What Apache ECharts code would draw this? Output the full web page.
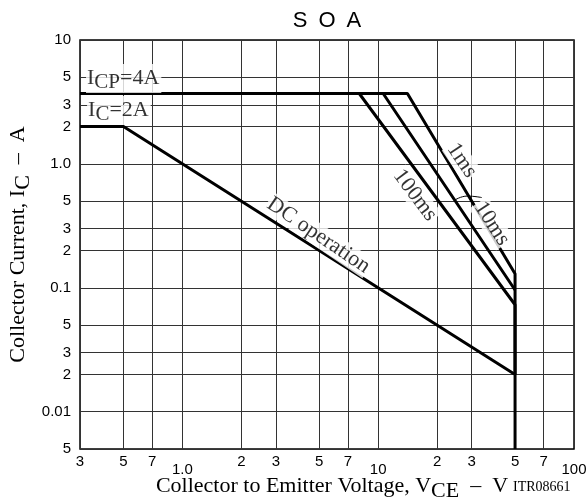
<!DOCTYPE html>
<html><head><meta charset="utf-8">
<script src="https://cdn.jsdelivr.net/npm/echarts@6/dist/echarts.min.js"></script>
<style>html,body{margin:0;padding:0;background:#fff}#c{width:587px;height:500px}</style>
</head><body><div id="c"></div>
<script>
// ---- tick positions & labels ----
const xTickValues = [0.3,0.5,0.7,1,2,3,5,7,10,20,30,50,70,100];
const xTickLabels = ['3','5','7','1.0','2','3','5','7','10','2','3','5','7','100'];
const yTickValues = [0.005,0.01,0.02,0.03,0.05,0.1,0.2,0.3,0.5,1,2,3,5,10];
const yTickLabels = ['5','0.01','2','3','5','0.1','2','3','5','1.0','2','3','5','10'];
const xDecadeLabels = ['1.0','10','100'];

// ---- curves (V, A) ----
const dcVoltage = [0.3, 0.5, 50, 50];
const dcCurrent = [2, 2, 0.02, 0.005];
const ms100Voltage = [0.3, 8.0, 50, 50];
const ms100Current = [3.7, 3.7, 0.073, 0.02];
const ms10Voltage = [0.3, 10.6, 50];
const ms10Current = [3.7, 3.7, 0.096];
const ms1Voltage = [0.3, 14.1, 50, 50];
const ms1Current = [3.7, 3.7, 0.13, 0.02];

// ---- annotation text (anchored in data coordinates) ----
const annotTexts = ['{i|I}{s|CP}{i|=4A}', '{i|I}{s|C}{i|=2A}', 'DC operation', '100ms', '1ms', '10ms'];
const annotVoltage = [0.322, 0.326, 4.95, 15.4, 26.7, 38.0];
const annotCurrent = [4.88, 2.70, 0.265, 0.558, 1.067, 0.33];
const annotRotate = [0, 0, -34, -53, -56, -57];
const annotAlign = ['left', 'left', 'center', 'center', 'center', 'center'];
const leaderVoltage = [24.6, 28.5, 33.8];
const leaderCurrent = [0.51, 0.55, 0.535];

const L = Math.log10;
const pts = (xs, ys) => xs.map((x, i) => [L(x), L(ys[i])]);
const findLabel = (vals, labels, v) => {
  for (let i = 0; i < vals.length; i++) if (Math.abs(L(vals[i]) - v) < 1e-6) return labels[i];
  return '';
};
const serif = 'Liberation Serif';
const sans = 'Liberation Sans';

const curveStyle = {color: '#000', width: 3};
const mkLine = (name, xs, ys) => ({
  name, type: 'line', data: pts(xs, ys), showSymbol: false, symbol: 'none',
  lineStyle: curveStyle, z: 3, animation: false, silent: true
});
const nameRich = {
  t: {fontFamily: serif, fontSize: 22, color: '#000'},
  s: {fontFamily: serif, fontSize: 22, color: '#000', padding: [9, 0, 0, 0]}
};
const annotRich = {
  i: {fontFamily: serif, fontSize: 22, color: '#000', textBorderWidth: 0},
  s: {fontFamily: serif, fontSize: 21, color: '#000', textBorderWidth: 0, padding: [8, 0, 0, 0]}
};

const chart = echarts.init(document.getElementById('c'), null, {renderer: 'canvas'});
chart.setOption({
  animation: false,
  backgroundColor: '#fff',
  grid: {left: 80, right: 13, top: 40, bottom: 51, show: true, borderColor: '#000', borderWidth: 1.5,
         backgroundColor: 'transparent', containLabel: false, outerBoundsMode: 'none'},
  graphic: [
    {type: 'text', x: 327, y: 21, style: {text: 'S\u2002O\u2002A', font: '22px "Liberation Sans"', fill: '#000', textAlign: 'center', textVerticalAlign: 'middle'}},
    {type: 'text', x: 513, y: 487, style: {text: 'ITR08661', font: '14px "Liberation Serif"', fill: '#000', textAlign: 'left', textVerticalAlign: 'middle'}}
  ],
  xAxis: {
    type: 'value', min: L(0.3), max: 2,
    axisLine: {show: false}, axisTick: {show: false, customValues: xTickValues.map(L)},
    splitLine: {show: true, lineStyle: {color: '#333', width: 1}},
    axisLabel: {
      customValues: xTickValues.map(L), margin: 5, color: '#000', fontFamily: sans, fontSize: 15,
      formatter: v => { const t = findLabel(xTickValues, xTickLabels, v); return xDecadeLabels.includes(t) ? '{d|' + t + '}' : t; },
      rich: {d: {fontFamily: sans, fontSize: 15, color: '#000', padding: [8, 0, 0, 0]}}
    },
    name: '{t|Collector to Emitter Voltage, V}{s|CE}{t|  \u2013  V}',
    nameLocation: 'middle', nameGap: 22, nameMoveOverlap: false,
    nameTextStyle: {color: '#000', fontFamily: serif, fontSize: 22, rich: nameRich, padding: [0, 0, 0, 10]}
  },
  yAxis: {
    type: 'value', min: L(0.005), max: 1,
    axisLine: {show: false}, axisTick: {show: false, customValues: yTickValues.map(L)},
    splitLine: {show: true, lineStyle: {color: '#333', width: 1}},
    axisLabel: {
      customValues: yTickValues.map(L), margin: 9, color: '#000', fontFamily: sans, fontSize: 15,
      formatter: v => findLabel(yTickValues, yTickLabels, v)
    },
    name: '{t|Collector Current, I}{s|C}{t|  \u2013  A}',
    nameLocation: 'middle', nameGap: 46, nameRotate: 90, nameMoveOverlap: false,
    nameTextStyle: {color: '#000', fontFamily: serif, fontSize: 22, rich: nameRich}
  },
  series: [
    mkLine('DC', dcVoltage, dcCurrent),
    mkLine('100ms', ms100Voltage, ms100Current),
    mkLine('10ms', ms10Voltage, ms10Current),
    mkLine('1ms', ms1Voltage, ms1Current),
    {type: 'line', data: pts(leaderVoltage, leaderCurrent), smooth: true, showSymbol: false, symbol: 'none',
     lineStyle: {color: '#000', width: 1}, z: 4, silent: true},
    {type: 'scatter', symbolSize: 0, z: 5, silent: true,
     data: annotTexts.map((t, i) => ({
       value: [L(annotVoltage[i]), L(annotCurrent[i])],
       label: {show: true, position: 'inside', formatter: t, rotate: annotRotate[i], align: annotAlign[i], verticalAlign: 'middle',
               fontFamily: serif, fontSize: 22, color: '#000', textBorderWidth: 0, backgroundColor: '#fff',
               padding: i < 2 ? [0, 2, 0, 1] : [0, 1], rich: annotRich}
     }))}
  ]
});
</script></body></html>
